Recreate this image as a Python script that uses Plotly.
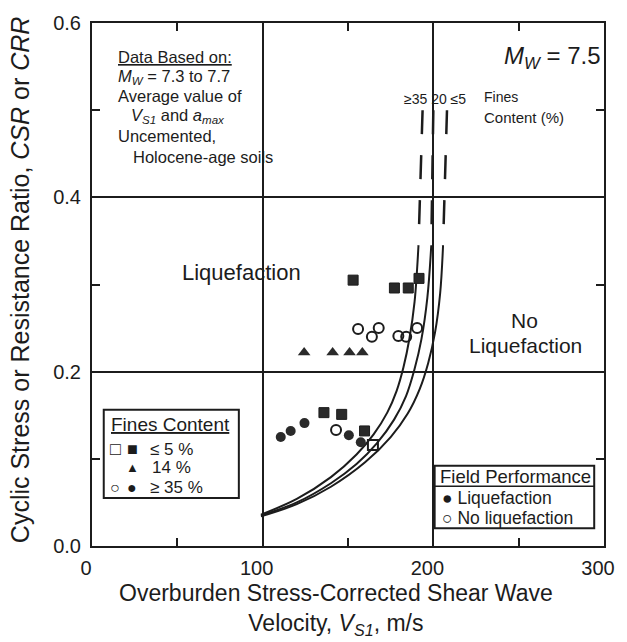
import plotly.graph_objects as go

# ---------------- data ----------------
x_ticks = [0, 100, 200, 300]
y_ticks = [0.0, 0.2, 0.4, 0.6]
y_tick_text = ["0.0", "0.2", "0.4", "0.6"]

# boundary curves (solid part), fines content >=35 %, 20 %, <=5 %
curve35_x = [99, 120, 140, 155, 165, 173, 178.5, 182.5, 186, 189, 191.3]
curve35_y = [0.036, 0.054, 0.079, 0.105, 0.128, 0.153, 0.178, 0.205, 0.238, 0.280, 0.345]
curve20_x = [99, 120, 140, 155, 167, 177, 184, 189, 193, 196.5, 198.8]
curve20_y = [0.035, 0.050, 0.072, 0.094, 0.118, 0.145, 0.172, 0.203, 0.237, 0.285, 0.345]
curve5_x = [99, 120, 140, 160, 175, 185, 192, 197, 201, 204, 205.7]
curve5_y = [0.034, 0.048, 0.068, 0.096, 0.125, 0.152, 0.180, 0.210, 0.245, 0.290, 0.345]
# dashed extensions (listed from the top down)
dash35_x = [193.7, 191.3]
dash20_x = [200.0, 198.8]
dash5_x = [208.0, 205.7]
dash_y = [0.500, 0.345]

# field data
sq_fill_x = [153.0, 177.2, 185.3, 191.6, 135.9, 146.3, 159.7]
sq_fill_y = [0.305, 0.296, 0.296, 0.307, 0.153, 0.151, 0.132]
sq_open_x = [164.6]
sq_open_y = [0.116]
tri_x = [124.3, 141.0, 150.9, 158.4]
tri_y = [0.222, 0.222, 0.222, 0.222]
circ_fill_x = [110.6, 116.4, 124.5, 150.5, 157.5]
circ_fill_y = [0.125, 0.132, 0.141, 0.127, 0.119]
circ_open_x = [143.0, 155.9, 168.0, 164.0, 179.5, 184.1, 190.5]
circ_open_y = [0.133, 0.249, 0.250, 0.240, 0.241, 0.240, 0.250]

# ---------------- figure ----------------
INK = "#1c1c1c"
FONT = "Liberation Sans, Arial, sans-serif"

L, R, T, B = 92, 615, 12, 546
W, H = 627, 642


def px(p):
    return (p - L) / (R - L)


def py(p):
    return (B - p) / (B - T)


fig = go.Figure()

for cx, cy in [(curve35_x, curve35_y), (curve20_x, curve20_y), (curve5_x, curve5_y)]:
    fig.add_trace(go.Scatter(x=cx, y=cy, mode="lines",
                             line=dict(color=INK, width=2, shape="spline", smoothing=1.0),
                             hoverinfo="skip"))
for dx in [dash35_x, dash20_x, dash5_x]:
    fig.add_trace(go.Scatter(x=dx, y=dash_y, mode="lines",
                             line=dict(color=INK, width=2.5, dash="24px,21px"),
                             hoverinfo="skip"))

fig.add_trace(go.Scatter(x=sq_fill_x, y=sq_fill_y, mode="markers",
                         marker=dict(symbol="square", size=10, color="#2a2a2a",
                                     line=dict(color=INK, width=1))))
fig.add_trace(go.Scatter(x=sq_open_x, y=sq_open_y, mode="markers",
                         marker=dict(symbol="square-open", size=10, color=INK,
                                     line=dict(width=2))))
fig.add_trace(go.Scatter(x=tri_x, y=tri_y, mode="markers",
                         marker=dict(symbol="triangle-up", size=11, color="#2a2a2a")))
fig.add_trace(go.Scatter(x=circ_fill_x, y=circ_fill_y, mode="markers",
                         marker=dict(symbol="circle", size=10, color="#2a2a2a")))
fig.add_trace(go.Scatter(x=circ_open_x, y=circ_open_y, mode="markers",
                         marker=dict(symbol="circle-open", size=10, color=INK,
                                     line=dict(width=2))))

axis_common = dict(
    showline=True, linecolor=INK, linewidth=2, mirror="allticks",
    showgrid=True, gridcolor=INK, gridwidth=2, zeroline=False,
    ticks="inside", ticklen=8, tickwidth=2, tickcolor=INK,
    tickfont=dict(family=FONT, size=20, color=INK),
)

fig.update_layout(
    width=W, height=H, autosize=False,
    margin=dict(l=L, r=W - R, t=T, b=H - B),
    paper_bgcolor="white", plot_bgcolor="white",
    showlegend=False,
    xaxis=dict(range=[0, 300], tickvals=x_ticks, ticklabelstandoff=3,
               ticklabelshift=-6,
               minor=dict(tickvals=[50, 150, 250], ticks="inside", ticklen=8,
                          tickwidth=2, tickcolor=INK, showgrid=False),
               **axis_common),
    yaxis=dict(range=[0, 0.6], tickvals=y_ticks, ticktext=y_tick_text,
               ticklabelstandoff=5,
               minor=dict(tickvals=[0.1, 0.3, 0.5], ticks="inside", ticklen=8,
                          tickwidth=2, tickcolor=INK, showgrid=False),
               **axis_common),
)

ann = []


def add_text(text, x, y, size, xanchor="left", textangle=0):
    ann.append(dict(text=text, x=px(x), y=py(y), xref="paper", yref="paper",
                    xanchor=xanchor, yanchor="middle", showarrow=False,
                    textangle=textangle, borderpad=0,
                    font=dict(family=FONT, size=size, color=INK)))


# axis titles
add_text("Cyclic Stress or Resistance Ratio, <i>CSR</i> or <i>CRR</i>", 18, 274, 25,
         xanchor="center", textangle=-90)
add_text("Overburden Stress-Corrected Shear Wave<br>Velocity, <i>V<sub>S1</sub></i>, m/s",
         341, 611, 23, xanchor="center")

# data note
add_text("<u>Data Based on:</u>", 118, 47, 16.5)
add_text("<i>M<sub>W</sub></i> = 7.3 to 7.7", 118, 67, 16.5)
add_text("Average value of", 118, 87, 16.5)
add_text("<i>V<sub>S1</sub></i> and <i>a<sub>max</sub></i>", 131, 107, 16.5)
add_text("Uncemented,", 118, 127, 16.5)
add_text("Holocene-age soils", 133, 149, 16.5)

add_text("<i>M<sub>W</sub></i> = 7.5", 613, 47, 24, xanchor="right")
add_text("\u226535 20 \u22645", 410, 90, 14)
add_text("Fines", 491, 88, 14)
add_text("Content (%)", 491, 108, 15)

add_text("Liquefaction", 245, 267, 22, xanchor="center")
add_text("No", 534, 316, 21, xanchor="center")
add_text("Liquefaction", 535, 341, 21, xanchor="center")

# fines content box
add_text("<u>Fines Content</u>", 110, 422, 19)
add_text("\u25a1", 116, 447, 18, xanchor="center")
add_text("\u25a0", 133, 447, 18, xanchor="center")
add_text("\u2264 5 %", 150, 447, 17)
add_text("\u25b2", 133, 466, 13, xanchor="center")
add_text("14 %", 152, 466, 17)
add_text("\u25cb", 116, 486, 16, xanchor="center")
add_text("\u25cf", 133, 486, 16, xanchor="center")
add_text("\u2265 35 %", 150, 486, 17)

# field performance box
add_text("Field Performance", 446, 475, 18.5)
add_text("\u25cf Liquefaction", 449, 497, 17.5)
add_text("\u25cb No liquefaction", 449, 517, 17.5)

fig.update_layout(annotations=ann)

shapes = [
    dict(type="rect", xref="paper", yref="paper", x0=px(104), x1=px(242),
         y0=py(497), y1=py(407), line=dict(color=INK, width=2), fillcolor="white",
         layer="above"),
    dict(type="rect", xref="paper", yref="paper", x0=px(442), x1=px(605),
         y0=py(528), y1=py(464), line=dict(color=INK, width=2), fillcolor="white",
         layer="above"),
    dict(type="line", xref="paper", yref="paper", x0=px(442), x1=px(605),
         y0=py(485), y1=py(485), line=dict(color=INK, width=1.5), layer="above"),
]
fig.update_layout(shapes=shapes)

fig.write_html("out.html")
